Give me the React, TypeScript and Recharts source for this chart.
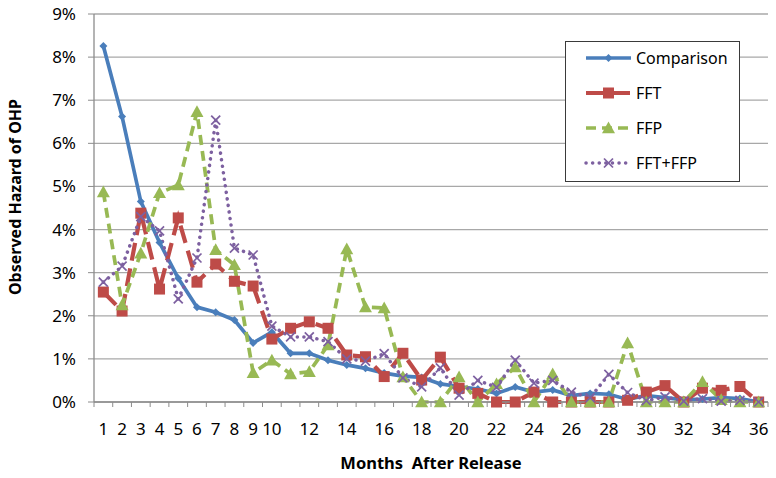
import React from 'react';
import { LineChart, Line, XAxis, YAxis, CartesianGrid, Legend } from 'recharts';

const months = [1,2,3,4,5,6,7,8,9,10,11,12,13,14,15,16,17,18,19,20,21,22,23,24,25,26,27,28,29,30,31,32,33,34,35,36];

const comparison = [8.26,6.62,4.65,3.7,2.87,2.2,2.08,1.9,1.37,1.62,1.13,1.13,0.97,0.86,0.78,0.67,0.6,0.57,0.42,0.36,0.3,0.2,0.35,0.23,0.28,0.15,0.2,0.18,0.06,0.15,0.1,0.05,0.07,0.1,0.08,0];
const fft = [2.55,2.11,4.38,2.62,4.27,2.78,3.2,2.8,2.69,1.46,1.71,1.86,1.71,1.09,1.05,0.59,1.13,0.51,1.04,0.32,0.2,0,0,0.23,0,0,0,0,0.04,0.23,0.38,0,0.32,0.27,0.36,0];
const ffp = [4.87,2.25,3.45,4.85,5.03,6.73,3.53,3.18,0.68,0.97,0.65,0.7,1.32,3.55,2.2,2.18,0.58,0,0,0.58,0,0.42,0.81,0,0.65,0,0,0,1.37,0,0,0,0.47,0.05,0,0];
const fftFfp = [2.78,3.15,4.3,3.97,2.39,3.34,6.54,3.57,3.41,1.76,1.51,1.51,1.4,1.0,0.95,1.12,0.56,0.35,0.79,0.16,0.5,0.34,0.97,0.44,0.5,0.23,0.1,0.64,0.22,0.03,0.12,0.02,0.08,0.02,0.04,0];

const yTicks = [0,1,2,3,4,5,6,7,8,9];
const xLabelled = [1,2,3,4,5,6,7,8,9,10,12,14,16,18,20,22,24,26,28,30,32,34,36];

const data = months.map((m, i) => ({
  month: m,
  comparison: comparison[i],
  fft: fft[i],
  ffp: ffp[i],
  fftFfp: fftFfp[i],
}));

const xTicks = months.flatMap((m) => [m - 0.5, m]).concat([months[months.length - 1] + 0.5]);

const FONT = '"Noto Sans", "Open Sans", sans-serif';
const AXIS = '#8c8c8c';
const GRID = '#a8a8a8';

const BLUE = '#4a7ebb';
const RED = '#be4b48';
const GREEN = '#98b954';
const PURPLE = '#7d60a0';

const Diamond = ({ cx, cy, color, s = 4 }: any) => (
  <polygon points={`${cx},${cy - s} ${cx + s},${cy} ${cx},${cy + s} ${cx - s},${cy}`} fill={color} />
);
const Square = ({ cx, cy, color, s = 5.5 }: any) => (
  <rect x={cx - s} y={cy - s} width={2 * s} height={2 * s} fill={color} />
);
const Tri = ({ cx, cy, color, s = 6.5 }: any) => (
  <polygon points={`${cx},${cy - s} ${cx + s},${cy + s * 0.8} ${cx - s},${cy + s * 0.8}`} fill={color} />
);
const Cross = ({ cx, cy, color, s = 4.5 }: any) => (
  <g stroke={color} strokeWidth={1.7}>
    <line x1={cx - s} y1={cy - s} x2={cx + s} y2={cy + s} />
    <line x1={cx - s} y1={cy + s} x2={cx + s} y2={cy - s} />
  </g>
);

const series = [
  { key: 'comparison', name: 'Comparison', color: BLUE, width: 3.7, dash: undefined as any, cap: 'butt', Marker: Diamond },
  { key: 'fft', name: 'FFT', color: RED, width: 4.2, dash: '18 8', cap: 'butt', Marker: Square },
  { key: 'ffp', name: 'FFP', color: GREEN, width: 3.7, dash: '10 6', cap: 'butt', Marker: Tri },
  { key: 'fftFfp', name: 'FFT+FFP', color: PURPLE, width: 3.5, dash: '0.1 6.5', cap: 'round', Marker: Cross },
];

const XTick = (props: any) => {
  const { x, y, payload } = props;
  const v = payload.value;
  if (!Number.isInteger(v)) {
    return <line x1={x} x2={x} y1={y} y2={y + 5} stroke={AXIS} strokeWidth={1} />;
  }
  if (!xLabelled.includes(v)) return <g />;
  return (
    <text x={x} y={y + 33} textAnchor="middle" fontFamily={FONT} fontSize={17} fill="#000">
      {v}
    </text>
  );
};

const LegendBox = () => (
  <svg width={176} height={142} style={{ display: 'block' }}>
    <rect x={0.5} y={0.5} width={174} height={140} fill="#fff" stroke="#3a3a3a" strokeWidth={1} />
    {series.map((s, i) => {
      const cy = 17 + i * 35;
      const M = s.Marker;
      return (
        <g key={s.key}>
          <line x1={21} x2={66} y1={cy} y2={cy} stroke={s.color} strokeWidth={s.width}
            strokeDasharray={s.dash} strokeLinecap={s.cap as any} />
          <M cx={43.5} cy={cy} color={s.color} />
          <text x={71} y={cy + 6} fontFamily={FONT} fontSize={16} fill="#000">{s.name}</text>
        </g>
      );
    })}
  </svg>
);

const YLabel = (props: any) => {
  const vb = props.viewBox || { x: 0, y: 14, width: 94, height: 388 };
  const cx = vb.x + 15;
  const cy = vb.y + vb.height / 2 - 11;
  return (
    <text x={cx} y={cy} transform={`rotate(-90 ${cx} ${cy})`} textAnchor="middle" dominantBaseline="central"
      fontFamily={FONT} fontSize={16} fontWeight="bold" fill="#000">
      Observed Hazard of OHP
    </text>
  );
};

const XLabel = (props: any) => {
  const vb = props.viewBox || { x: 94, y: 402, width: 674, height: 76 };
  const cx = vb.x + vb.width / 2;
  return (
    <text x={cx} y={vb.y + 67} textAnchor="middle" fontFamily={FONT} fontSize={16.5} fontWeight="bold" fill="#000"
      style={{ whiteSpace: 'pre' }}>
      {'Months  After Release'}
    </text>
  );
};

export default function App() {
  return (
    <div style={{ position: 'absolute', left: 0, top: 0, width: 776, height: 478, background: '#fff' }}>
      <LineChart width={776} height={478} data={data} margin={{ top: 14, right: 8, left: 0, bottom: 0 }}>
        <CartesianGrid vertical={false} stroke={GRID} strokeWidth={1.3} />
        <XAxis
          dataKey="month"
          type="number"
          domain={[0.5, 36.5]}
          ticks={xTicks}
          interval={0}
          tick={<XTick />}
          tickLine={false}
          tickSize={0}
          tickMargin={0}
          height={76}
          stroke={AXIS}
          axisLine={{ stroke: AXIS, strokeWidth: 1.3 }}
          label={{ content: XLabel }}
        />
        <YAxis
          domain={[0, 9]}
          ticks={yTicks}
          interval={0}
          tickFormatter={(v: number) => `${v}%`}
          width={94}
          tickSize={6}
          tickMargin={12}
          tick={{ fill: '#000', fontSize: 17, fontFamily: FONT }}
          tickLine={{ stroke: AXIS }}
          axisLine={{ stroke: AXIS, strokeWidth: 1.3 }}
          label={{ content: YLabel }}
        />
        <Legend
          layout="vertical"
          align="center"
          verticalAlign="middle"
          content={() => <LegendBox />}
          wrapperStyle={{ position: 'absolute', left: 565, top: 41, width: 176, height: 142 }}
        />
        {series.map((s) => (
          <Line
            key={s.key}
            type="linear"
            dataKey={s.key}
            name={s.name}
            stroke={s.color}
            strokeWidth={s.width}
            strokeDasharray={s.dash}
            strokeLinecap={s.cap as any}
            isAnimationActive={false}
            dot={(p: any) => <s.Marker key={`${s.key}-${p.index}`} cx={p.cx} cy={p.cy} color={s.color} />}
            activeDot={false}
          />
        ))}
      </LineChart>
    </div>
  );
}
